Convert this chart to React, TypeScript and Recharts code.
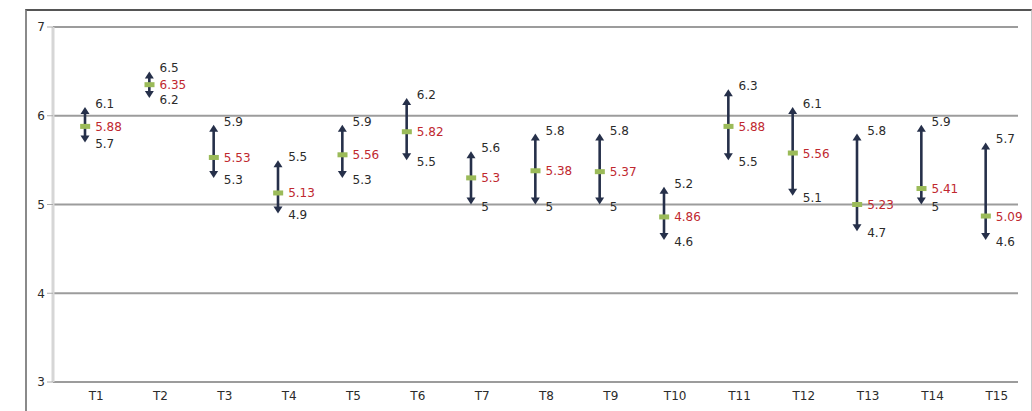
import {
  ComposedChart,
  Bar,
  Line,
  XAxis,
  YAxis,
  CartesianGrid,
  LabelList,
} from "recharts";

const categories = ["T1", "T2", "T3", "T4", "T5", "T6", "T7", "T8", "T9", "T10", "T11", "T12", "T13", "T14", "T15"];
const highValues = [6.1, 6.5, 5.9, 5.5, 5.9, 6.2, 5.6, 5.8, 5.8, 5.2, 6.3, 6.1, 5.8, 5.9, 5.7];
const lowValues = [5.7, 6.2, 5.3, 4.9, 5.3, 5.5, 5, 5, 5, 4.6, 5.5, 5.1, 4.7, 5, 4.6];
const meanValues = [5.88, 6.35, 5.53, 5.13, 5.56, 5.82, 5.3, 5.38, 5.37, 4.86, 5.88, 5.56, 5.23, 5.41, 5.09];
// where the green marker sits in the picture (last few drift from the printed mean)
const markerValues = [5.88, 6.35, 5.53, 5.13, 5.56, 5.82, 5.3, 5.38, 5.37, 4.86, 5.88, 5.58, 5.0, 5.18, 4.87];
const yTicks = [3, 4, 5, 6, 7];

const FONT = "'DejaVu Sans', Verdana, sans-serif";
const ARROW = "#26304a";
const GREEN = "#9bbb59";
const RED = "#c0282f";
const TEXT = "#2b2b2b";

const chartData = categories.map((cat, i) => ({
  cat,
  range: [lowValues[i], highValues[i]],
  high: highValues[i],
  low: lowValues[i],
  mean: meanValues[i],
  marker: markerValues[i],
}));

function ArrowRange(props: any) {
  const { x, y, width, height } = props;
  if (x == null || y == null) return null;
  const cx = x + width / 2;
  const top = Math.min(y, y + height);
  const bottom = Math.max(y, y + height);
  const head = 7;
  const hw = 4.5;
  return (
    <g>
      <line x1={cx} x2={cx} y1={top + head - 1} y2={bottom - head + 1} stroke={ARROW} strokeWidth={2.6} />
      <polygon points={`${cx},${top} ${cx - hw},${top + head} ${cx + hw},${top + head}`} fill={ARROW} />
      <polygon points={`${cx},${bottom} ${cx - hw},${bottom - head} ${cx + hw},${bottom - head}`} fill={ARROW} />
    </g>
  );
}

function MarkerDot(props: any) {
  const { cx, cy, index } = props;
  if (cx == null || cy == null) return <g key={index} />;
  return <rect key={index} x={cx - 5} y={cy - 2.5} width={10} height={5} fill={GREEN} />;
}

function makeLabel(color: string, shift: number) {
  return (props: any) => {
    const { x, y, value, index } = props;
    return (
      <text key={index} x={x + 10} y={y + shift} fill={color} fontSize={12} fontFamily={FONT}>
        {String(value)}
      </text>
    );
  };
}

function CategoryTick(props: any) {
  const { x, y, payload } = props;
  return (
    <text x={x + 11} y={y + 10} textAnchor="middle" fill={TEXT} fontSize={12} fontFamily={FONT}>
      {payload.value}
    </text>
  );
}

export default function App() {
  return (
    <div style={{ position: "relative", width: 1032, height: 411, overflow: "hidden", background: "#fff" }}>
      <style>{`body{margin:0}`}</style>
      <div
        style={{
          position: "absolute",
          left: 25,
          top: 9,
          width: 1004,
          height: 430,
          borderTop: "2px solid #555",
          borderLeft: "2px solid #8a8a8a",
          borderRight: "1px solid #c8c8c8",
        }}
      />
      <div style={{ position: "absolute", left: 0, top: 0 }}>
        <ComposedChart
          width={1032}
          height={411}
          data={chartData}
          margin={{ top: 27, right: 14, left: 0, bottom: 0 }}
        >
          <CartesianGrid horizontal vertical={false} stroke="#9c9c9c" strokeWidth={2} />
          <XAxis
            dataKey="cat"
            axisLine={false}
            tickLine={false}
            height={29}
            tick={<CategoryTick />}
            interval={0}
          />
          <YAxis
            domain={[3, 7]}
            ticks={yTicks}
            width={53}
            axisLine={{ stroke: "#d6d6d6", strokeWidth: 3 }}
            tickLine={{ stroke: "#aaa" }}
            tickSize={6}
            tick={{ fill: TEXT, fontSize: 12, fontFamily: FONT }}
          />
          <Bar dataKey="range" barSize={10} shape={<ArrowRange />} isAnimationActive={false} />
          <Line dataKey="high" stroke="none" dot={false} activeDot={false} isAnimationActive={false}>
            <LabelList dataKey="high" content={makeLabel(TEXT, 1)} />
          </Line>
          <Line dataKey="low" stroke="none" dot={false} activeDot={false} isAnimationActive={false}>
            <LabelList dataKey="low" content={makeLabel(TEXT, 6)} />
          </Line>
          <Line dataKey="marker" stroke="none" dot={<MarkerDot />} activeDot={false} isAnimationActive={false}>
            <LabelList dataKey="mean" content={makeLabel(RED, 4.5)} />
          </Line>
        </ComposedChart>
      </div>
    </div>
  );
}
